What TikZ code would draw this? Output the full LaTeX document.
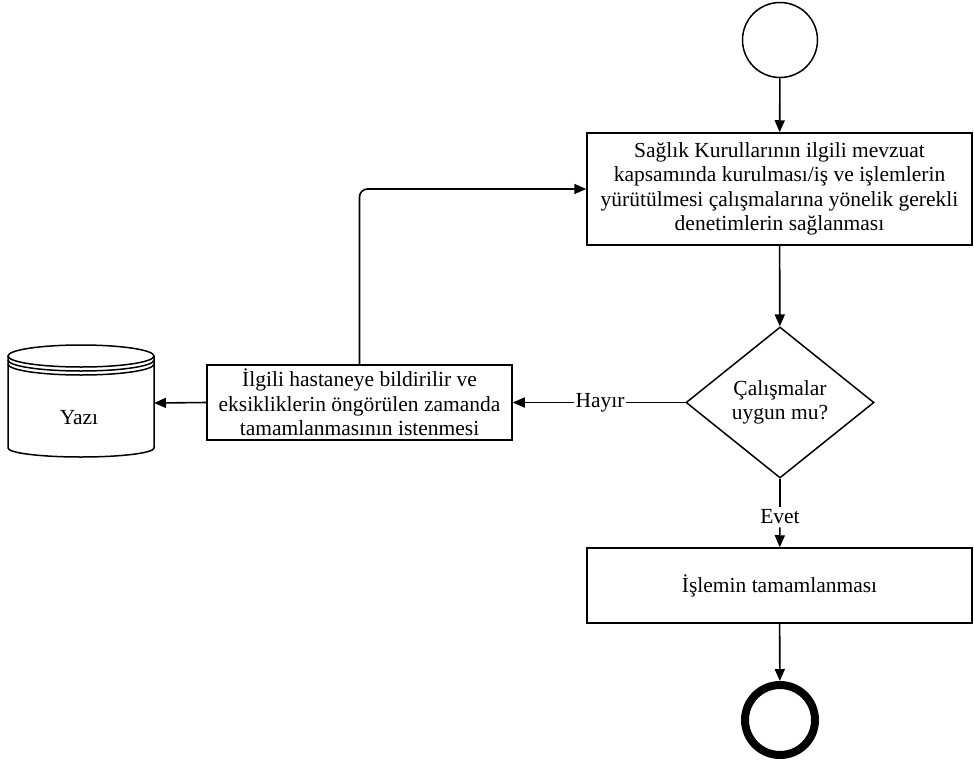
\documentclass[tikz,border=0pt]{standalone}
\usepackage{fontspec}
\setmainfont{Liberation Serif}
\usetikzlibrary{shapes.geometric,arrows.meta}
\begin{document}
\begin{tikzpicture}[x=1pt,y=-1pt,
  every node/.style={font=\fontsize{21.5}{24.5}\selectfont},
  procbox/.style={draw,line width=1.5pt,align=center,inner sep=0pt},
  decision/.style={draw,line width=1.5pt,diamond,align=center,inner sep=0pt,
    minimum width=188pt,minimum height=151pt},
  flow/.style={line width=1.6pt,-{Triangle[length=12pt,width=10pt]}},
  plain/.style={line width=1.6pt},
  lbl/.style={inner sep=1pt}]
\useasboundingbox (0,0) rectangle (974,760);

% start and end events
\node[draw,circle,line width=1.5pt,minimum size=75pt,inner sep=0pt] (start) at (780,40) {};
\node[draw,circle,line width=8pt,minimum size=70pt,inner sep=0pt] (end) at (780,720) {};

% process steps
\node[procbox,minimum width=385pt,minimum height=112pt] (denetim) at (779.5,189)
  {Sağlık Kurullarının ilgili mevzuat\\kapsamında kurulması/iş ve işlemlerin\\yürütülmesi çalışmalarına yönelik gerekli\\denetimlerin sağlanması};
\node[decision] (uygun) at (780,402.5) {Çalışmalar\\uygun mu?};
\node[procbox,minimum width=305pt,minimum height=75pt] (bildir) at (359.5,402.5)
  {İlgili hastaneye bildirilir ve\\eksikliklerin öngörülen zamanda\\tamamlanmasının istenmesi};
\node[procbox,minimum width=385pt,minimum height=75pt] (tamam) at (779.5,585.5)
  {İşlemin tamamlanması};

% document store drawn as a cylinder with a ribbed lid
\node (yazi) at (79,418) {Yazı};
\coordinate (yaziE) at (154,403);
\begin{scope}[line width=1.5pt]
  \draw (81,356) ellipse [x radius=73, y radius=11];
  \draw (8,360) arc[start angle=180,end angle=0,x radius=73,y radius=11];
  \draw (8,364) arc[start angle=180,end angle=0,x radius=73,y radius=11];
  \draw (8,356) -- (8,448) arc[start angle=180,end angle=0,x radius=73,y radius=9] -- (154,356);
\end{scope}

% branch labels
\node[lbl] (hayir) at (600,402.5) {Hayır};
\node[lbl,inner sep=3pt] (evet) at (780,517) {Evet};

% connectors
\draw[flow] (start) -- (denetim);
\draw[flow] (denetim) -- (uygun);
\draw[plain] (uygun.west) -- (hayir);
\draw[flow] (hayir) -- (bildir.east);
\draw[flow] (bildir.west) -- (yaziE);
\draw[flow,rounded corners=8pt] (bildir.north) |- (denetim.west);
\draw[plain] (uygun.south) -- (evet);
\draw[flow] (evet) -- (tamam);
\draw[flow] (tamam) -- (end);
\end{tikzpicture}
\end{document}
